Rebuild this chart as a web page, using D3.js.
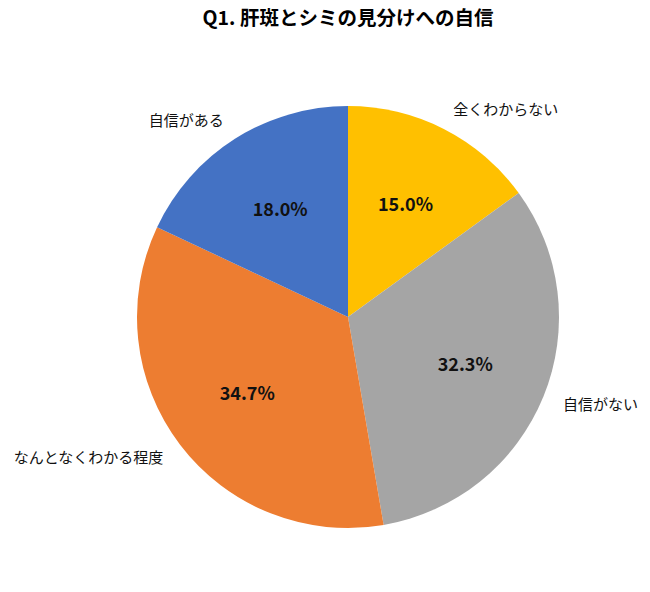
<!DOCTYPE html>
<html>
<head>
<meta charset="utf-8">
<script src="https://cdn.jsdelivr.net/npm/d3@7"></script>
<style>
  body { margin: 0; background: #fff; }
  svg { display: block; }
</style>
</head>
<body>
<svg id="chart" width="650" height="592"></svg>
<script>
// data
const categories = ["全くわからない", "自信がない", "なんとなくわかる程度", "自信がある"];
const values = [15.0, 32.3, 34.7, 18.0];
const colors = ["#FFC000", "#A5A5A5", "#ED7D31", "#4472C4"];
const title = "Q1. 肝斑とシミの見分けへの自信";

const svg = d3.select("#chart");
const cx = 348, cy = 317, r = 211;
const font = "'Noto Sans CJK JP', 'Noto Sans', sans-serif";

svg.append("text")
    .attr("x", 348).attr("y", 25)
    .attr("text-anchor", "middle")
    .style("font-family", font)
    .style("font-weight", "bold")
    .style("font-size", "19.5px")
    .text(title);

const data = categories.map((c, i) => ({ name: c, value: values[i], color: colors[i] }));

const pie = d3.pie().value(d => d.value).sort(null);
const arcs = pie(data);

const arc = d3.arc().innerRadius(0).outerRadius(r);
const inner = d3.arc().innerRadius(r * 0.6).outerRadius(r * 0.6);

const g = svg.append("g").attr("transform", `translate(${cx},${cy})`);

g.selectAll("path")
    .data(arcs)
    .enter().append("path")
    .attr("d", arc)
    .attr("fill", d => d.data.color);

// percentage labels inside
g.selectAll("text.pct")
    .data(arcs)
    .enter().append("text")
    .attr("class", "pct")
    .attr("transform", d => `translate(${inner.centroid(d)})`)
    .attr("text-anchor", "middle")
    .attr("dy", "0.35em")
    .style("font-family", font)
    .style("font-weight", "bold")
    .style("font-size", "18px")
    .style("fill", "#111")
    .text(d => d.data.value.toFixed(1) + "%");

// category labels outside
const mid = d => (d.startAngle + d.endAngle) / 2;
g.selectAll("text.cat")
    .data(arcs)
    .enter().append("text")
    .attr("class", "cat")
    .attr("x", d => Math.sin(mid(d)) * r * 1.1)
    .attr("y", d => -Math.cos(mid(d)) * r * 1.1)
    .attr("dy", "0.35em")
    .attr("text-anchor", d => mid(d) < Math.PI ? "start" : "end")
    .style("font-family", font)
    .style("font-size", "15px")
    .style("fill", "#111")
    .text(d => d.data.name);
</script>
</body>
</html>
